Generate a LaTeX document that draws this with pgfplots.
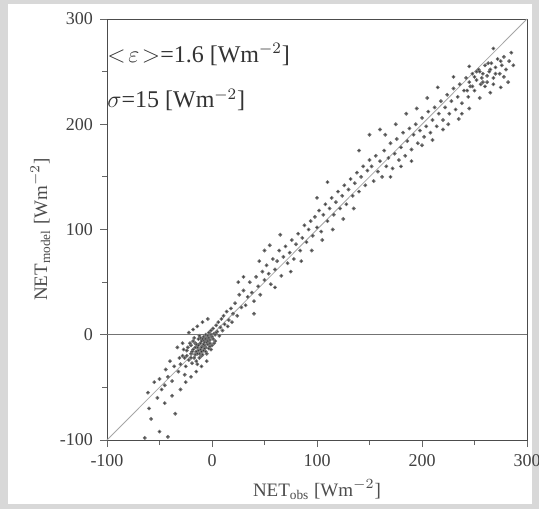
\documentclass[border=0pt]{standalone}
\usepackage{pgfplots}
\pgfplotsset{compat=1.18}
\usepackage{fontspec}
\setmainfont{Liberation Serif}

\pgfplotstableread{
x y
-30 -28
-28 -20
-25 -30
-24 -15
-22 -24
-20 -18
-20 -10
-19 -27
-18 -14
-17 -22
-16 -8
-15 -16
-15 -25
-14 -12
-13 -4
-12 -18
-12 -9
-11 -14
-10 -6
-10 -20
-9 -11
-8 -2
-8 -15
-7 -7
-6 -12
-6 0
-5 -4
-5 -18
-4 -9
-3 2
-3 -13
-2 -5
-1 4
0 -2
0 -10
1 6
2 1
3 -6
4 9
5 3
6 12
7 -1
8 7
9 15
10 4
11 18
12 10
14 22
15 8
16 14
18 25
19 12
20 20
-26 -38
-32 -35
-36 -30
-38 -44
-42 -40
-45 -48
-40 -25
-33 -12
-28 -8
-22 2
-18 5
-14 8
-9 12
-4 15
-25 -45
-30 -52
-20 -40
-15 -35
-10 -30
-5 -25
-13 -10
-11 -3
-9 -19
-7 -13
-16 -12
-18 -6
-6 -16
-2 -8
-20 -22
-23 -12
-12 -22
-8 -5
-4 -1
-1 -14
1 -4
3 0
-14 -28
-26 -22
-17 -3
-15 -9
-13 -15
-11 -8
-10 -12
-9 -4
-7 -10
-5 -7
-3 -3
-2 -11
-19 -16
-21 -8
-16 -19
-12 -1
-8 -9
-6 -4
-4 -6
-24 -20
-14 -18
-10 -16
2 -8
4 2
-1 0
-27 -14
-31 -22
-48 -52
-52 -60
-55 -45
-45 -65
-58 -80
-50 -92
-64 -98
-42 -97
-35 -75
-60 -70
-44 -33
-50 -42
-38 -58
-61 -55
}\lowdata

\pgfplotstableread{
x y
22 30
24 18
26 38
28 26
30 42
32 28
34 36
36 50
38 40
40 32
42 55
44 46
46 38
48 60
50 52
52 66
54 58
56 48
58 72
60 62
62 70
64 80
66 56
68 74
70 84
72 68
74 78
76 90
78 72
80 86
82 96
84 80
86 92
88 104
90 88
92 100
94 108
96 94
98 112
100 102
102 118
104 98
106 114
108 124
110 108
112 120
114 130
116 114
118 126
120 136
122 120
124 132
126 142
128 124
130 138
132 148
134 132
136 144
138 154
140 136
142 150
144 160
146 142
148 156
150 166
30 55
45 70
55 85
65 95
75 60
85 70
95 80
105 90
115 100
60 45
40 20
125 110
135 120
100 130
110 145
50 80
25 50
}\middata

\pgfplotstableread{
x y
152 160
154 146
156 170
158 155
160 165
162 150
164 175
166 160
168 168
170 182
172 158
174 172
176 186
178 166
180 178
182 192
184 170
186 184
188 196
190 176
192 190
194 200
196 182
198 194
200 206
202 188
204 198
206 212
208 192
210 204
212 216
214 198
216 210
218 222
220 204
222 216
224 228
226 210
228 222
230 234
232 214
234 226
236 238
238 220
240 232
242 244
244 226
246 236
248 248
250 232
252 242
254 252
256 238
258 248
260 256
262 240
264 250
266 258
268 244
270 254
272 262
274 248
276 256
278 264
280 252
283 260
285 268
287 256
245 240
250 245
255 250
258 240
262 246
265 252
268 238
248 236
252 250
257 244
263 258
270 248
275 260
243 232
260 236
175 200
185 210
195 215
205 225
165 190
200 180
210 185
225 200
235 205
245 215
255 225
265 230
180 160
190 165
170 150
215 235
230 245
140 175
150 190
160 195
245 255
268 272
278 245
282 240
220 195
238 210
275 235
}\highdata

\definecolor{framegray}{RGB}{216,216,216}

\begin{document}
\begin{tikzpicture}
% grey frame round the whole picture (1 px = 0.5 pt)
\path[use as bounding box] (-53.5pt,-34.5pt) rectangle (216pt,220pt);
\fill[framegray] (-53.5pt,-34.5pt) rectangle (216pt,220pt);
\fill[white] (-49.5pt,-32pt) rectangle (212.5pt,218pt);
\begin{axis}[
  scale only axis, width=210pt, height=210.5pt,
  xmin=-100, xmax=300, ymin=-100, ymax=300,
  xtick={-100,0,100,200,300}, ytick={-100,0,100,200,300},
  minor tick num=1,
  tick align=outside, major tick length=3.5pt, minor tick length=2.5pt,
  tick style={black!60, thin},
  axis line style={black!70, thin},
  xtick pos=bottom, ytick pos=left,
  tick label style={font=\fontsize{9}{10}\selectfont, black!75},
  /pgf/number format/assume math mode=true,
  xlabel={NET$_{\mathrm{obs}}$ [Wm$^{-2}$]},
  ylabel={NET$_{\mathrm{model}}$ [Wm$^{-2}$]},
  label style={font=\fontsize{9.5}{10}\selectfont, black!70},
  xlabel style={yshift=0pt},
  ylabel style={yshift=-2pt},
  clip=false,
]
\addplot[black!35, thin] coordinates {(-100,-100) (300,300)};
\addplot[black!55, thin] coordinates {(-100,0) (300,0)};
\addplot[only marks, mark=*, mark size=0.75pt, mark options={fill=black!80, draw=black!55}]
  table[x=x,y=y] {\lowdata};
\addplot[only marks, mark=*, mark size=0.75pt, mark options={fill=black!80, draw=black!55}]
  table[x=x,y=y] {\middata};
\addplot[only marks, mark=*, mark size=0.75pt, mark options={fill=black!80, draw=black!55}]
  table[x=x,y=y] {\highdata};
\node[anchor=west, inner sep=0pt, font=\fontsize{12}{13}\selectfont, black!80]
  at (axis cs:-100,266) {$<\!\varepsilon\!>$=1.6 [Wm$^{-2}$]};
\node[anchor=west, inner sep=0pt, font=\fontsize{12}{13}\selectfont, black!80]
  at (axis cs:-100,223) {$\sigma$=15 [Wm$^{-2}$]};
\end{axis}
\end{tikzpicture}
\end{document}
